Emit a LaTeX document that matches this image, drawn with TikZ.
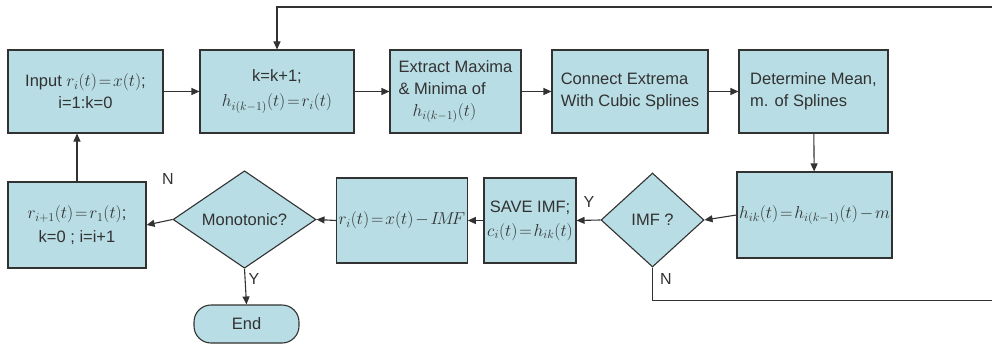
\documentclass[tikz,border=0pt]{standalone}
\usepackage{fontspec}
\setmainfont{Liberation Sans}
\usetikzlibrary{arrows.meta,shapes.geometric}
\definecolor{boxfill}{RGB}{184,221,228}
\definecolor{ink}{RGB}{50,50,50}
\newcommand{\eqq}{\mskip2mu{=}\mskip2mu}
\newcommand{\mns}{\mskip2mu{-}\mskip2mu}
\tikzset{
  box/.style={draw=ink,fill=boxfill,line width=1.1pt,text=ink,inner sep=2pt,
    font=\fontsize{16.5}{22}\selectfont},
  dia/.style={shape=diamond,draw=ink,fill=boxfill,line width=1.1pt,text=ink,inner sep=0pt,
    font=\fontsize{16.5}{22}\selectfont},
  conn/.style={draw=ink,line width=1.1pt,-{Triangle[length=8pt,width=7pt]}},
  plain/.style={draw=ink,line width=1.1pt},
  lab/.style={text=ink,font=\fontsize{16}{18}\selectfont,inner sep=0pt}
}
\begin{document}
\begin{tikzpicture}[x=1pt,y=-1pt]
\useasboundingbox (0,0) rectangle (992,345);
\node[box,minimum width=155pt,minimum height=83pt,align=center] (in) at (85.5,91.5)
  {Input $r_i(t)\eqq x(t)$;\\ i=1:k=0};
\node[box,minimum width=154pt,minimum height=83pt,align=center] (kk) at (277,91.5)
  {k=k+1;\\[3pt] $h_{i(k-1)}(t)\eqq r_i(t)$};
\node[box,minimum width=131pt,minimum height=83pt,align=left] (ex) at (455.5,91.5)
  {Extract Maxima\\ \& Minima of\\ \hspace*{14pt}$h_{i(k-1)}(t)$};
\node[box,minimum width=156pt,minimum height=83pt,align=left] (co) at (630,91.5)
  {Connect Extrema\\ With Cubic Splines};
\node[box,minimum width=149pt,minimum height=83pt,align=left] (de) at (813.5,91.5)
  {Determine Mean,\\ m. of Splines};
\node[box,minimum width=147pt,minimum height=86pt,align=center] (hk) at (814.5,215)
  {$h_{ik}(t)\eqq h_{i(k-1)}(t)\mns m$};
\node[dia,minimum width=103pt,minimum height=94pt] (imf) at (652.5,220) {IMF ?};
\node[box,minimum width=92pt,minimum height=85pt,align=center,inner sep=0pt] (sv) at (530,220.5)
  {SAVE IMF;\\[2pt] $c_i(t)\eqq h_{ik}(t)$};
\node[box,minimum width=124pt,minimum height=85pt,align=center] (rx) at (402,220.5)
  {$r_i(t)\eqq x(t)\mns I\!M\!F$};
\node[dia,minimum width=143pt,minimum height=95pt] (mo) at (244.5,219.5) {Monotonic?};
\node[box,minimum width=138pt,minimum height=86pt,align=center] (ri) at (77,225)
  {$r_{i+1}(t)\eqq r_1(t)$;\\[2pt] k=0 ; i=i+1};
\node[box,minimum width=105pt,minimum height=38pt,rounded corners=17pt] (end) at (246.5,324) {End};
\coordinate (rt) at (992,7);
\coordinate (rb) at (992,300.5);
\draw[conn] (in) -- (kk);
\draw[conn] (kk) -- (ex);
\draw[conn] (ex) -- (co);
\draw[conn] (co) -- (de);
\draw[conn] (de) -- (hk);
\draw[conn] (hk.west) -- (imf.east);
\draw[conn] (imf.west) -- (sv.east);
\draw[conn] (sv.west) -- (rx.east);
\draw[conn] (rx.west) -- (mo.east);
\draw[conn] (mo.west) -- (ri.east);
\draw[conn] (ri.north) -- (ri.north |- in.south);
\draw[conn] (mo.south) -- (end.north);
\draw[conn] (rt) -| (kk.north);
\draw[plain] (imf.south) |- (rb);
\node[lab] (n1) at (168,179) {N};
\node[lab] (y1) at (254,279) {Y};
\node[lab] (y2) at (589,202) {Y};
\node[lab] (n2) at (666,279) {N};
\end{tikzpicture}
\end{document}
